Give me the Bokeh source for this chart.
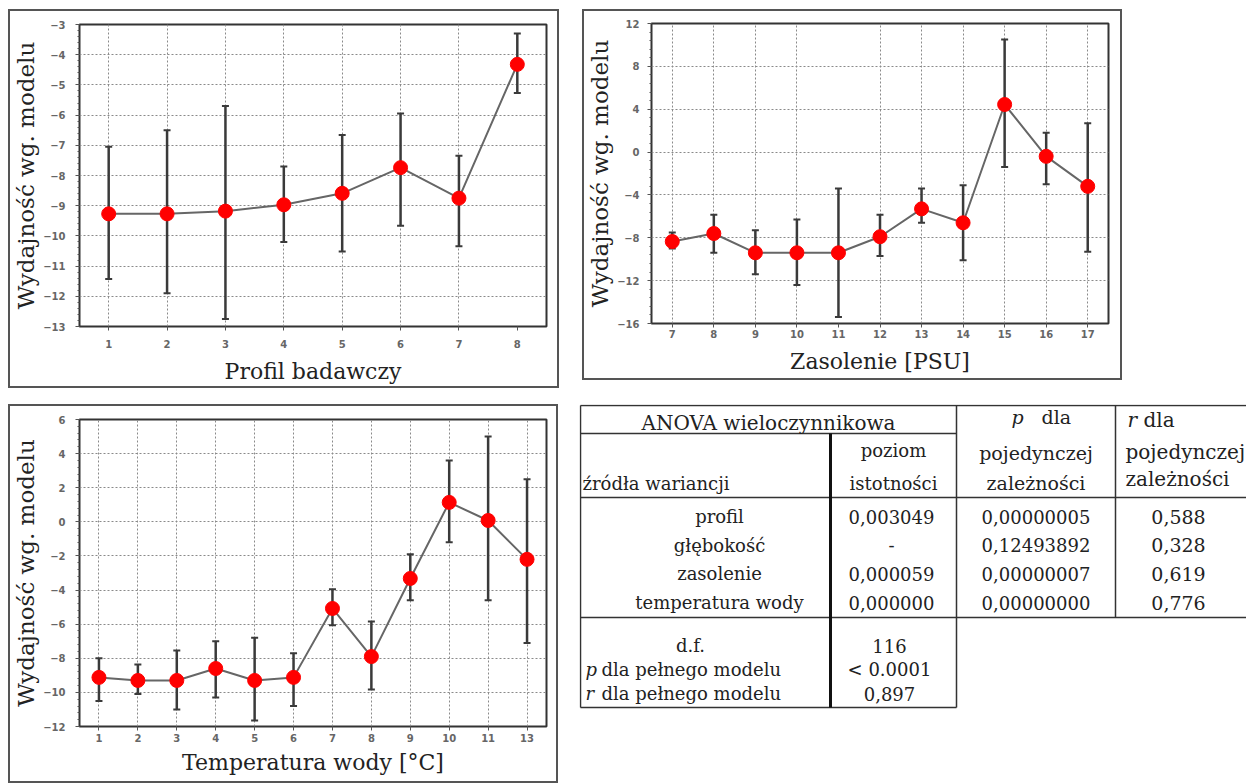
from bokeh.plotting import figure
from bokeh.models import ColumnDataSource, FactorRange, Range1d, SingleIntervalTicker, Spacer
from bokeh.layouts import row, column
from bokeh.core.properties import value
from bokeh.embed import file_html
from bokeh.resources import INLINE

# ---------------- data ----------------
profil_labels = ["1", "2", "3", "4", "5", "6", "7", "8"]
profil_mean = [-9.27, -9.27, -9.18, -8.97, -8.59, -7.74, -8.75, -4.32]
profil_upper = [-7.05, -6.5, -5.7, -7.7, -6.66, -5.95, -7.35, -3.3]
profil_lower = [-11.43, -11.9, -12.75, -10.2, -10.52, -9.66, -10.34, -5.27]

zasol_labels = ["7", "8", "9", "10", "11", "12", "13", "14", "15", "16", "17"]
zasol_mean = [-8.35, -7.6, -9.4, -9.4, -9.4, -7.9, -5.3, -6.6, 4.44, -0.4, -3.2]
zasol_upper = [-7.5, -5.85, -7.3, -6.3, -3.4, -5.85, -3.4, -3.1, 10.5, 1.8, 2.7]
zasol_lower = [-9.0, -9.4, -11.4, -12.4, -15.4, -9.7, -6.6, -10.1, -1.4, -3.0, -9.3]

temp_labels = ["1", "2", "3", "4", "5", "6", "7", "8", "9", "10", "11", "13"]
temp_mean = [-9.12, -9.3, -9.3, -8.6, -9.3, -9.12, -5.08, -7.9, -3.32, 1.14, 0.08, -2.2]
temp_upper = [-8.0, -8.36, -7.55, -7.0, -6.8, -7.7, -3.96, -5.84, -1.9, 3.6, 5.0, 2.5]
temp_lower = [-10.5, -10.1, -11.0, -10.3, -11.65, -10.8, -6.07, -9.83, -4.6, -1.2, -4.6, -7.1]

y_title = "Wydajność wg. modelu"

anova_title = "ANOVA wieloczynnikowa"
anova_sources = ["profil", "głębokość", "zasolenie", "temperatura wody"]
anova_level = ["0,003049", "-", "0,000059", "0,000000"]
anova_p_single = ["0,00000005", "0,12493892", "0,00000007", "0,00000000"]
anova_r_single = ["0,588", "0,328", "0,619", "0,776"]
model_prefix = ["", "p", "r"]
model_labels = ["d.f.", "dla pełnego modelu", "dla pełnego modelu"]
model_values = ["116", "< 0.0001", "0,897"]

SERIF = "DejaVu Serif"
BORDER = 2


def panel(labels, mean, upper, lower, y0, y1, step, xtitle, w, h,
          mbl, mbr, mbt, mbb, x_lab_standoff, x_title_standoff, y_lab_standoff):
    src = ColumnDataSource(dict(x=labels, m=mean, u=upper, l=lower))
    b = BORDER
    p = figure(x_range=FactorRange(*labels), y_range=Range1d(y0, y1),
               width=w - 2 * b, height=h - 2 * b,
               output_backend="svg", toolbar_location=None,
               min_border_left=mbl - b, min_border_right=mbr - b,
               min_border_top=mbt - b, min_border_bottom=mbb - b)
    p.background_fill_color = "white"
    p.border_fill_color = "white"
    p.outline_line_color = "#333333"
    p.outline_line_width = 2

    ticker = SingleIntervalTicker(interval=step, num_minor_ticks=5)
    p.yaxis.ticker = ticker
    p.ygrid.ticker = ticker
    for ax in (p.xaxis[0], p.yaxis[0]):
        ax.axis_line_color = None
        ax.major_tick_in = 0
        ax.major_tick_out = 4
        ax.major_tick_line_color = "#555555"
        ax.major_label_text_font = "DejaVu Sans"
        ax.major_label_text_font_size = "10px"
        ax.major_label_text_font_style = "bold"
        ax.major_label_text_color = "#666666"
        ax.axis_label_text_font = SERIF
        ax.axis_label_text_font_style = "normal"
        ax.axis_label_text_color = "#222222"
    p.yaxis.minor_tick_in = 0
    p.yaxis.minor_tick_out = 2
    p.yaxis.minor_tick_line_color = "#555555"
    p.xaxis.major_label_standoff = x_lab_standoff
    p.yaxis.major_label_standoff = y_lab_standoff
    p.xaxis.axis_label = xtitle
    p.yaxis.axis_label = y_title
    p.xaxis.axis_label_text_font_size = "22px"
    p.yaxis.axis_label_text_font_size = "23px"
    p.xaxis.axis_label_standoff = x_title_standoff
    p.yaxis.axis_label_standoff = 1

    p.grid.grid_line_color = "#8a8a8a"
    p.grid.grid_line_dash = "2 2"
    p.grid.grid_line_width = 1

    p.segment(x0="x", y0="l", x1="x", y1="u", source=src,
              line_color="#3a3a3a", line_width=2.5)
    p.scatter(x="x", y="u", source=src, marker="dash", size=7,
              line_color="#3a3a3a", line_width=2)
    p.scatter(x="x", y="l", source=src, marker="dash", size=7,
              line_color="#3a3a3a", line_width=2)
    p.line(x="x", y="m", source=src, line_color="#666666", line_width=2)
    p.scatter(x="x", y="m", source=src, marker="circle", size=14,
              fill_color="#ff0000", line_color="#ff0000")
    wrap = column(p, styles={"border": f"{b}px solid #555555"})
    return wrap


p1 = panel(profil_labels, profil_mean, profil_upper, profil_lower, -13, -3, 1,
           "Profil badawczy", 551, 379, 59, 13, 15, 58, 9, 8, 10)
p2 = panel(zasol_labels, zasol_mean, zasol_upper, zasol_lower, -16, 12, 4,
           "Zasolenie [PSU]", 540, 371, 55, 14, 14, 57, 2, 8, 8)
p3 = panel(temp_labels, temp_mean, temp_upper, temp_lower, -12, 6, 2,
           "Temperatura wody [°C]", 550, 379, 59, 12, 15, 57, 3, 5, 10)

# ---------------- table ----------------
TW, TH = 667, 305
t = figure(frame_width=TW, frame_height=TH, x_range=Range1d(0, TW), y_range=Range1d(TH, 0),
           output_backend="svg", toolbar_location=None, title=None,
           min_border_left=0, min_border_right=0, min_border_top=0, min_border_bottom=0,
           x_axis_type=None, y_axis_type=None)
t.outline_line_color = None
t.grid.visible = False
t.background_fill_color = "white"
t.border_fill_color = "white"

# column / row geometry
c0, c1, c2, c3, c4 = 1, 251, 377, 536, TW
r_top, r_anova, r_head, r_data, r_bot = 1, 29, 93, 213, 303
thin = dict(line_color="#333333", line_width=1.5)
t.segment(x0=[c0, c0, c0, c0, c0], y0=[r_top, r_anova, r_head, r_data, r_bot],
          x1=[c4, c2, c4, c4, c2], y1=[r_top, r_anova, r_head, r_data, r_bot], **thin)
t.segment(x0=[c0, c2, c3], y0=[r_top, r_top, r_top],
          x1=[c0, c2, c3], y1=[r_bot, r_bot, r_data], **thin)
t.segment(x0=[c1], y0=[r_anova], x1=[c1], y1=[r_bot], line_color="#111111", line_width=3)

TXT = "#222222"


def txt(xs, ys, texts, size="19px", align="center", style="normal"):
    t.text(x=xs, y=ys, text=texts, text_font=value(SERIF), text_font_size=size,
           text_align=align, text_baseline="middle", text_color=TXT,
           text_font_style=style)


# header
txt([(c0 + c2) / 2], [18], [anova_title], size="20px")
txt([3], [79], ["źródła wariancji"], size="18px", align="left")
txt([(c1 + c2) / 2] * 2, [46, 79], ["poziom", "istotności"], size="18px")
txt([438], [12], ["p"], size="19px", style="italic")
txt([462], [12], ["dla"], size="19px", align="left")
txt([(c2 + c3) / 2] * 2, [48, 78], ["pojedynczej", "zależności"], size="19px")
txt([548], [15], ["r"], size="20px", align="left", style="italic")
txt([564], [15], ["dla"], size="20px", align="left")
txt([546, 546], [47, 74], ["pojedynczej", "zależności"], size="20px", align="left")

# data rows
row_y = [112 + i * 28.7 for i in range(len(anova_sources))]
txt([140] * len(row_y), row_y, anova_sources, size="18px")
txt([312] * len(row_y), row_y, anova_level, size="18px")
txt([(c2 + c3) / 2] * len(row_y), row_y, anova_p_single, size="18px")
txt([599] * len(row_y), row_y, anova_r_single, size="19px")

# model rows
m_y = [241 + i * 24 for i in range(len(model_labels))]
txt([111], [m_y[0]], [model_labels[0]], size="18px")
txt([6, 6], m_y[1:], model_prefix[1:], size="18px", align="left", style="italic")
txt([22, 22], m_y[1:], model_labels[1:], size="18px", align="left")
txt([310] * len(m_y), m_y, model_values, size="18px")

# ---------------- layout ----------------
top = row(Spacer(width=8, height=379), p1, Spacer(width=23, height=379), p2)
bottom = row(Spacer(width=8, height=379), p3, Spacer(width=21, height=379), t)
layout = column(Spacer(width=1246, height=9), top, Spacer(width=1246, height=16), bottom)

open("out.html", "w").write(file_html(layout, INLINE))
